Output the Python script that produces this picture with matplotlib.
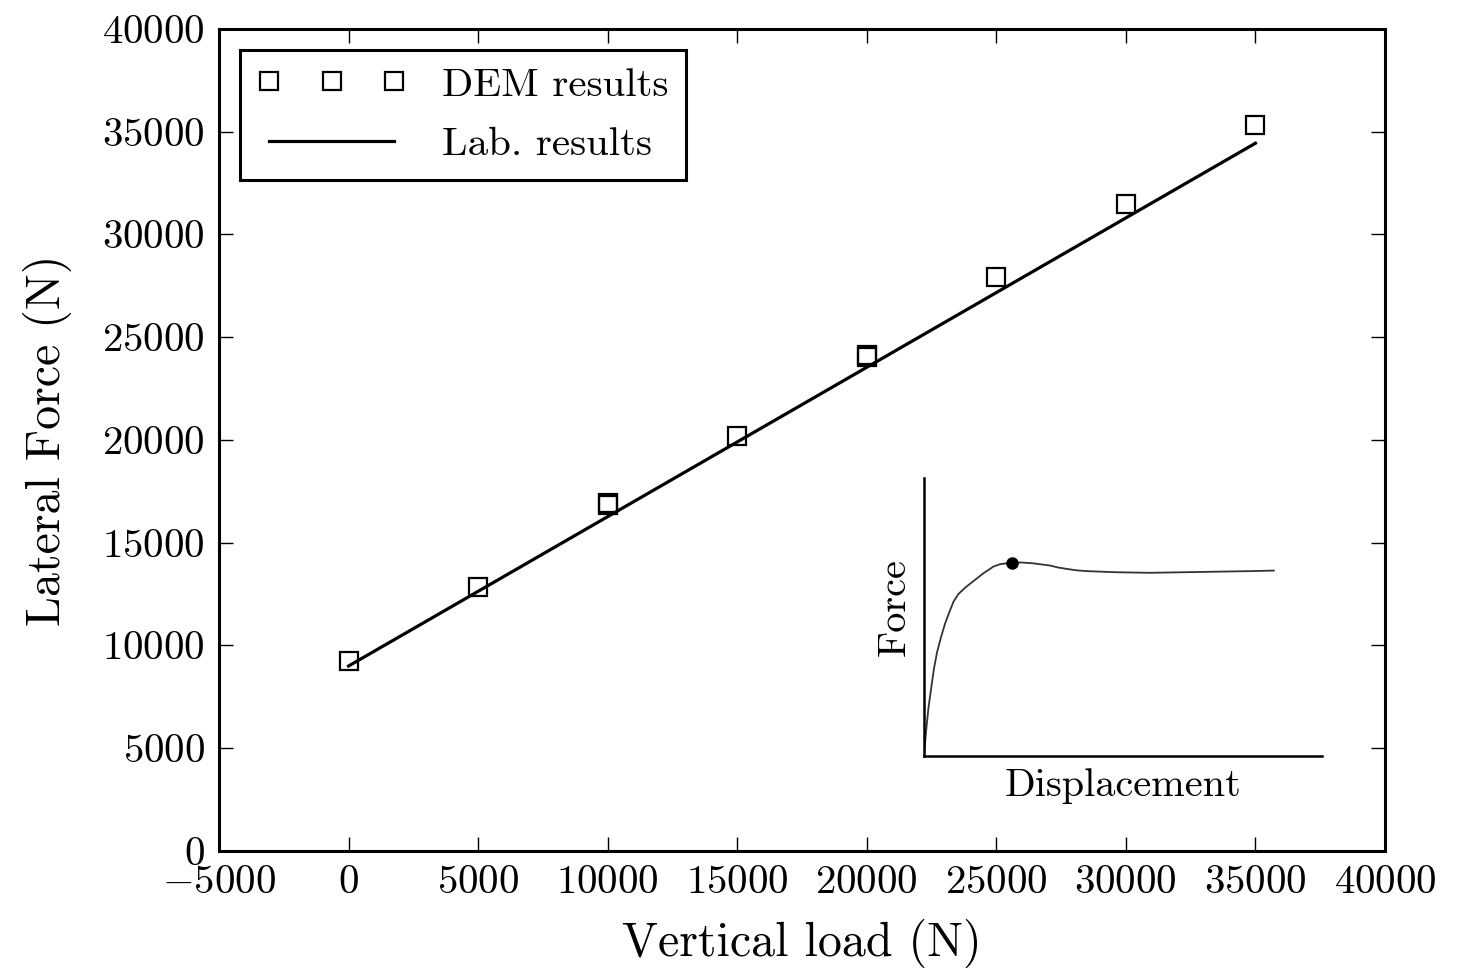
import matplotlib
matplotlib.use("Agg")
import matplotlib.pyplot as plt
from matplotlib.legend_handler import HandlerLine2D
from matplotlib.lines import Line2D
import numpy as np

plt.rcParams.update({
    "font.family": "serif",
    "font.serif": ["cmr10"],
    "mathtext.fontset": "cm",
    "axes.formatter.use_mathtext": True,
    "axes.unicode_minus": True,
})

# DEM shear-box runs (vertical load vs peak lateral force)
dem_load = [0, 5000, 10000, 10000, 15000, 20000, 20000, 25000, 30000, 35000]
dem_force = [9250, 12850, 16820, 16950, 20200, 24020, 24110, 27930, 31480, 35340]

# laboratory fit
lab_load = [0, 35000]
lab_force = [9000, 34440]

# schematic force-displacement curve for the inset
disp = [0.0, 0.5, 1.1, 1.8, 2.5, 3.3, 4.3, 5.3, 6.4, 7.4, 8.6, 10.3, 12.4,
        14.9, 17.4, 19.1, 22.2, 24.6, 27.5, 29.6, 31.7, 33.7, 35.9, 38.2,
        40.9, 48.4, 56.8, 65.2, 73.5, 81.9, 87.9]
force = [0.0, 8.7, 17.2, 24.4, 31.5, 37.5, 42.9, 47.7, 51.9, 55.5, 58.2,
         60.5, 62.9, 65.7, 68.1, 69.0, 69.6, 69.6, 69.3, 68.9, 68.5, 67.8,
         67.3, 66.8, 66.5, 66.1, 65.9, 66.1, 66.3, 66.5, 66.7]
peak_disp, peak_force = 22.2, 69.6

TICK_FS = 29.5
LABEL_FS = 34.5

fig = plt.figure(figsize=(14.63, 9.68), dpi=100)
ax = fig.add_axes([0.1497, 0.1209, 0.797, 0.8492])

ax.plot(dem_load, dem_force, linestyle="none", marker="s", markersize=13.5,
        markerfacecolor="none", markeredgecolor="black", markeredgewidth=1.6,
        label="DEM results")
ax.plot(lab_load, lab_force, color="black", linewidth=2.3, label="Lab. results")

ax.set_xlim(-5000, 40000)
ax.set_ylim(0, 40000)
ax.set_xticks(np.arange(-5000, 40001, 5000))
ax.set_yticks(np.arange(0, 40001, 5000))
ax.tick_params(direction="in", length=10, width=1, top=True, right=True,
               labelsize=TICK_FS, pad=10)
for s in ax.spines.values():
    s.set_linewidth(2.2)

ax.set_xlabel("Vertical load (N)", fontsize=LABEL_FS, labelpad=13)
ax.set_ylabel("Lateral Force (N)", fontsize=LABEL_FS, labelpad=22)

# markers sit at the very ends of the legend handle
leg = ax.legend(loc="upper left", bbox_to_anchor=(0.018, 0.9745),
                borderaxespad=0, numpoints=3, fontsize=29.5,
                handlelength=3.35, handletextpad=1.17, labelspacing=0.55,
                borderpad=0.42, fancybox=False, framealpha=1,
                handler_map={Line2D: HandlerLine2D(marker_pad=0, xpad=0.3)})
leg.get_frame().set_edgecolor("black")
leg.get_frame().set_linewidth(2.2)

# inset: sketch of a typical shear response
ins = fig.add_axes([0.6316, 0.219, 0.272, 0.2872])
ins.plot(disp, force, color="#333333", linewidth=1.3)
ins.plot([peak_disp], [peak_force], "o", color="black", markersize=8)
ins.set_xlim(0, 100)
ins.set_ylim(0, 100)
ins.set_xticks([])
ins.set_yticks([])
ins.spines["top"].set_visible(False)
ins.spines["right"].set_visible(False)
ins.spines["left"].set_linewidth(1.8)
ins.spines["bottom"].set_linewidth(1.8)
ins.patch.set_alpha(0)
ins.set_xlabel("Displacement", fontsize=29, labelpad=9)
ins.set_ylabel("Force", fontsize=29)
ins.yaxis.set_label_coords(-0.028, 0.536)

fig.savefig("out.png", dpi=100)
